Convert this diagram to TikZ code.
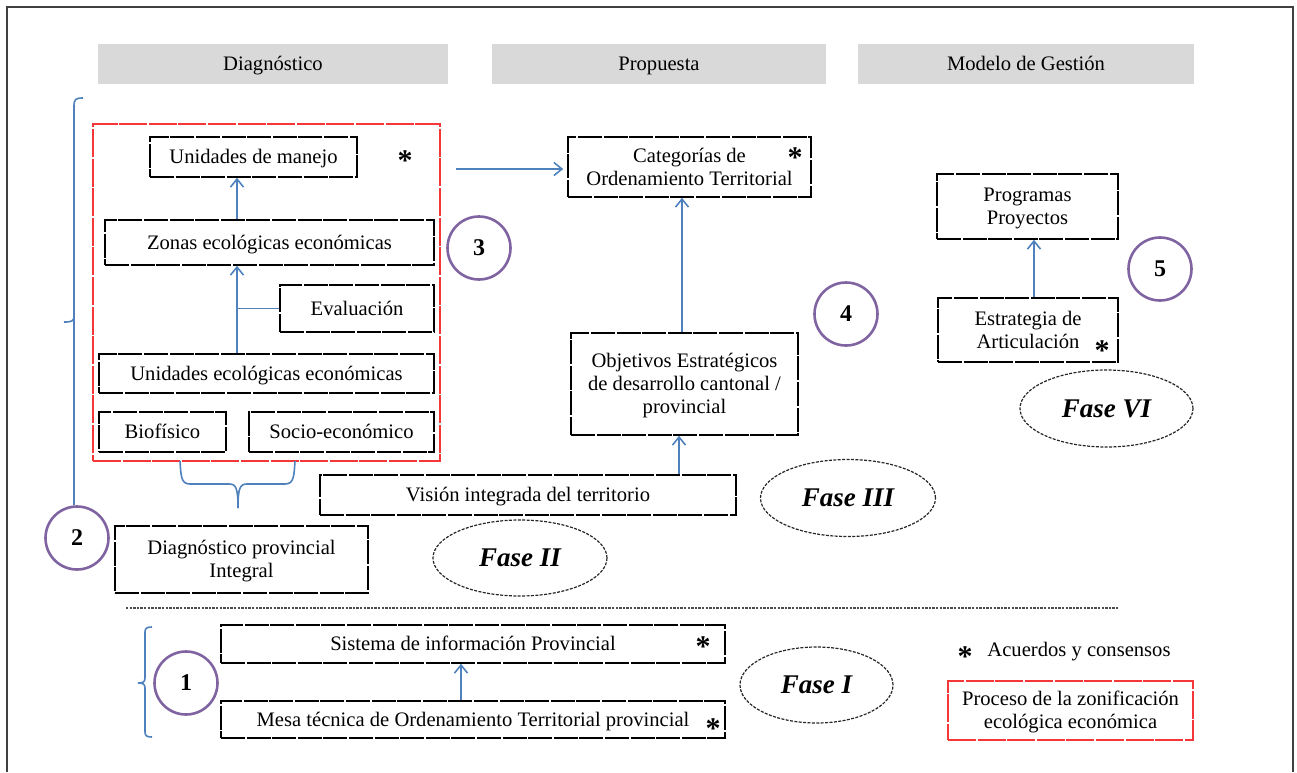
\documentclass[tikz,border=0pt]{standalone}
\usepackage{fontspec}
\setmainfont{Liberation Serif}
\usetikzlibrary{arrows.meta,shapes.geometric}
\definecolor{hdr}{RGB}{217,217,217}
\definecolor{arrblue}{RGB}{79,129,189}
\definecolor{circ}{RGB}{128,100,162}
\definecolor{redz}{RGB}{245,55,55}
\definecolor{framec}{RGB}{64,64,64}
\begin{document}
\begin{tikzpicture}[x=0.5pt,y=-0.5pt,
 every node/.style={font=\fontsize{10.3}{11.5}\selectfont, inner sep=0pt, text=black},
 t1/.style={text height=8.8pt, text depth=2pt},
 t2/.style={text height=20.3pt, text depth=2pt},
 t3/.style={text height=31.8pt, text depth=2pt},
 bx/.style={draw=black, line width=0.8pt, dash pattern=on 12pt off 0.8pt, align=center, rectangle},
 redbox/.style={draw=redz, line width=0.8pt, dash pattern=on 14pt off 0.8pt, align=center, rectangle},
 hdrbox/.style={fill=hdr, minimum height=20pt, rectangle, t1},
 num/.style={circle, draw=circ, line width=1.3pt, minimum size=31.5pt, font=\fontsize{12}{12}\selectfont\bfseries},
 fase/.style={ellipse, draw=black!85, line width=0.6pt, dash pattern=on 1.5pt off 0.7pt, font=\fontsize{13.5}{14}\selectfont\bfseries\itshape},
 arr/.style={draw=arrblue, line width=0.8pt, -{Straight Barb[length=4pt,width=6.5pt]}},
 bl/.style={draw=arrblue, line width=0.8pt},
 ast/.style={font=\fontsize{15}{15}\selectfont\bfseries}
]
\useasboundingbox (0,0) rectangle (1297,772);
% outer frame
\draw[framec, line width=1pt] (7,772) -- (7,7) -- (1293,7) -- (1293,772);

% headers
\node[hdrbox, minimum width=175pt] (h1) at (273,64) {Diagnóstico};
\node[hdrbox, minimum width=167pt] (h2) at (659,64) {Propuesta};
\node[hdrbox, minimum width=168pt] (h3) at (1026,64) {Modelo de Gestión};

% red zone frame
\node[redbox, minimum width=173.5pt, minimum height=168.5pt] (zone) at (266.5,292.5) {};

% diagnostic boxes
\node[bx, t1, minimum width=103.5pt, minimum height=20pt] (um) at (253.5,157) {Unidades de manejo};
\node[ast] (a1) at (405,161) {*};
\node[bx, t1, minimum width=164.5pt, minimum height=22.5pt] (zee) at (269.5,242.5) {Zonas ecológicas económicas};
\node[bx, t1, minimum width=77pt, minimum height=23.5pt] (eval) at (357,308.5) {Evaluación};
\node[bx, t1, minimum width=167.5pt, minimum height=19.5pt] (uee) at (266.5,373.5) {Unidades ecológicas económicas};
\node[bx, t1, minimum width=63.5pt, minimum height=20pt] (bio) at (162.5,432) {Biofísico};
\node[bx, t1, minimum width=92.5pt, minimum height=20pt] (soc) at (341.5,432) {Socio-económico};
\node[bx, t2, minimum width=126.5pt, minimum height=33.5pt] (dpi) at (241.5,559.5) {Diagnóstico provincial\\Integral};

\coordinate (colA) at (237,0);
\draw[arr] (uee.north -| colA) -- (zee.south -| colA);
\draw[arr] (zee.north -| colA) -- (um.south -| colA);
\draw[bl] (colA |- eval.west) -- (eval.west);

% brace under red zone
\coordinate (brL) at (180,461);
\coordinate (brR) at (295,461);
\coordinate (brM) at (238,508);
\draw[bl] (brL) .. controls (181,476) and (181,484) .. (190,484) -- (229,484)
  .. controls (236,484) and (238,488) .. (brM);
\draw[bl] (brR) .. controls (294,476) and (294,484) .. (285,484) -- (247,484)
  .. controls (240,484) and (238,488) .. (brM);

% circles
\node[num] (c2) at (77,538) {2};
\node[num] (c3) at (479,248) {3};
\node[num] (c4) at (846,314) {4};
\node[num] (c5) at (1160,269) {5};
\node[num] (c1) at (186,683) {1};

% bracket for phase 2
\coordinate (b2top) at (83,98);
\draw[bl] (b2top) .. controls (76,98) and (74,99) .. (74,106) -- (c2.north -| 74,0);
\draw[bl] (74,316) .. controls (74,321) and (72,322) .. (64,322);

% propuesta
\node[bx, t2, minimum width=121.5pt, minimum height=30pt] (cat) at (689.5,167) {Categorías de\\Ordenamiento Territorial};
\node[ast] (a2) at (795,158) {*};
\node[bx, t3, minimum width=113.5pt, minimum height=51pt] (obj) at (684.5,384) {Objetivos Estratégicos\\de desarrollo cantonal /\\provincial};
\node[bx, t1, minimum width=208pt, minimum height=20pt] (vis) at (528,495) {Visión integrada del territorio};
\coordinate (arrS) at (456,169);
\draw[arr] (arrS) -- ([xshift=-2pt]arrS -| cat.west);
\coordinate (colB) at (682,0);
\draw[arr] (obj.north -| colB) -- (cat.south -| colB);
\coordinate (colC) at (679,0);
\draw[arr] (vis.north -| colC) -- (obj.south -| colC);

% modelo de gestion
\node[bx, t2, minimum width=90.5pt, minimum height=32.5pt] (prog) at (1027.5,206.5) {Programas\\Proyectos};
\node[bx, t2, minimum width=90pt, minimum height=32pt] (estr) at (1028,330) {Estrategia de\\Articulación};
\node[ast] (a3) at (1102,351) {*};
\coordinate (colD) at (1034,0);
\draw[arr] (estr.north -| colD) -- (prog.south -| colD);

% fases
\node[fase, minimum width=87pt, minimum height=38pt] (f2) at (520,558) {Fase II};
\node[fase, minimum width=87.5pt, minimum height=38.5pt] (f3) at (848,498) {Fase III};
\node[fase, minimum width=86.5pt, minimum height=38.5pt] (f6) at (1106.5,408.5) {Fase VI};
\node[fase, minimum width=76.5pt, minimum height=38pt] (f1) at (816.5,685) {Fase I};

% separator
\coordinate (sepL) at (126,608);
\coordinate (sepR) at (1118,608);
\draw[black!70, line width=0.6pt, dash pattern=on 1.2pt off 0.6pt] (sepL) -- (sepR);

% phase 1
\node[bx, t1, minimum width=252pt, minimum height=19pt] (sis) at (473,644) {Sistema de información Provincial};
\node[ast] (a4) at (703,647) {*};
\node[bx, t1, minimum width=252pt, minimum height=18.5pt] (mesa) at (473,719.5) {Mesa técnica de Ordenamiento Territorial provincial};
\node[ast] (a5) at (713,729) {*};
\coordinate (colE) at (461,0);
\draw[arr] (mesa.north -| colE) -- (sis.south -| colE);

% bracket phase 1
\coordinate (b1top) at (152,627);
\coordinate (b1bot) at (152,737);
\draw[bl] (b1top) .. controls (147,627) and (145,628) .. (145,632) -- (145,678)
  .. controls (145,682) and (143,683) .. (138,683)
  .. controls (143,683) and (145,684) .. (145,688) -- (145,732)
  .. controls (145,736) and (147,737) .. (b1bot);

% legend
\node[ast] (a6) at (965,657) {*};
\node[t1] (leg1) at (1079,650) {Acuerdos y consensos};
\node[redbox, t2, minimum width=122.5pt, minimum height=29.5pt] (proc) at (1070.5,710.5) {Proceso de la zonificación\\ecológica económica};
\end{tikzpicture}
\end{document}
